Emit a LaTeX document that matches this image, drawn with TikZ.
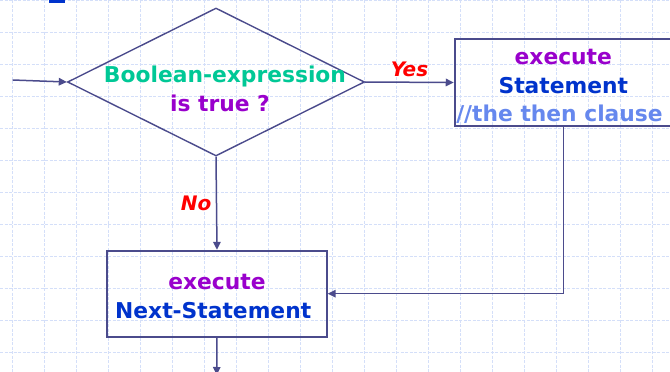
\documentclass[tikz,border=0pt]{standalone}
\usepackage{fontspec}
\setmainfont{DejaVu Sans}
\usetikzlibrary{%
        arrows.meta,
        shapes.geometric
    }
\definecolor{flowline}{RGB}{75, 75, 140}
\definecolor{gridblue}{RGB}{212, 223, 249}
\definecolor{condgreen}{RGB}{0, 200, 150}
\definecolor{kwpurple}{RGB}{153, 0, 204}
\definecolor{stmtblue}{RGB}{0, 51, 204}
\definecolor{commentblue}{RGB}{102, 136, 238}
\newcommand{\boxfont}{\fontsize{21.8}{28.8}\selectfont\bfseries}
\tikzset{%
    gridline/.style={draw=gridblue, line width=1.2pt, dash pattern=on 3pt off 1.5pt},
    flow/.style={draw=flowline, line width=1.5pt},
    arrowline/.style={flow, -{Triangle[length=8pt, width=7.5pt]}},
    stmtbox/.style={draw=flowline, line width=1.8pt, inner sep=0pt},
    boxtext/.style={align=center, inner sep=0pt, font=\boxfont},
    answer/.style={text=red, font=\fontsize{20}{24}\selectfont\bfseries\itshape}
}

\begin{document}
\begin{tikzpicture}[x=1pt, y=-1pt]

    \useasboundingbox (0, 0) rectangle (670, 372);
    \fill[white] (0, 0) rectangle (670, 372);

    % background grid
    \foreach \gx in {0, ..., 20}{%
        \draw[gridline] ({12.5 + 32*\gx}, 0) -- ({12.5 + 32*\gx}, 372);
    };
    \foreach \gy in {0, ..., 11}{%
        \draw[gridline] (0, {0.7 + 32*\gy}) -- (670, {0.7 + 32*\gy});
    };
    \fill[stmtblue] (49, 0) rectangle (65, 2.7);

    \node[diamond, draw=flowline, line width=1.4pt, minimum width=297pt,
        minimum height=148pt, inner sep=0pt] (cond) at (216, 82) {};
    \node[boxtext] (condtext) at (225, 89) {%
        \color{condgreen}Boolean-expression\\
        \color{kwpurple}is true ?
    };

    \node[stmtbox, minimum width=217.3pt, minimum height=86.4pt] (stmt)
        at (563.3, 82.5) {};
    \node[boxtext] (stmttext) at (563.3, 86.5) {%
        \color{kwpurple}execute\\
        \color{stmtblue}Statement\\
        \color{commentblue}//the then clause
    };

    \node[stmtbox, minimum width=219.4pt, minimum height=86pt] (next)
        at (217, 293.7) {};
    \node[boxtext] (nexttext) at (217, 296.5) {%
        \color{kwpurple}execute\\[0.5pt]
        \color{stmtblue}Next-Statement
    };

    \coordinate (entry) at (12.7, 80);
    \coordinate (exit) at (216.7, 375);

    \draw[arrowline] (entry) -- (cond.west);
    \draw[arrowline] (cond.east) -- (stmt.west)
        node[answer, midway, above=1pt] (yes) {Yes};
    \draw[arrowline] (cond.south) -- (next.north)
        node[answer, midway, left=1pt] (no) {No};
    \draw[arrowline] (stmt.south) |- (next.east);
    \draw[arrowline] (next.south) -- (exit);

\end{tikzpicture}
\end{document}
